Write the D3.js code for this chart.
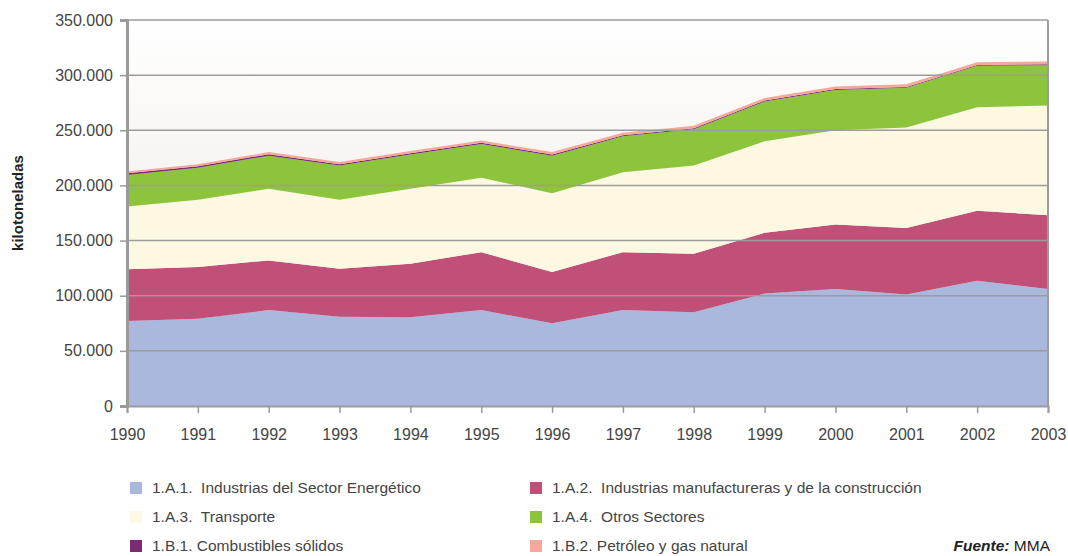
<!DOCTYPE html>
<html>
<head>
<meta charset="utf-8">
<script src="https://cdn.jsdelivr.net/npm/d3@7"></script>
<style>
  body { margin: 0; background: #fff; }
  svg text { font-family: "Liberation Sans", Arial, sans-serif; white-space: pre; }
</style>
</head>
<body>
<svg id="chart" width="1068" height="556"></svg>
<script>
const years = ['1990','1991','1992','1993','1994','1995','1996','1997','1998','1999','2000','2001','2002','2003'];
const energetico = [77000, 79000, 87000, 81000, 80500, 87000, 75000, 87000, 85000, 102000, 106000, 101000, 113500, 106000];
const manufactura = [47000, 47000, 45000, 43500, 48500, 52500, 46500, 52500, 53000, 55000, 58500, 60500, 63500, 67000];
const transporte = [57000, 61000, 65000, 62500, 68000, 67500, 71500, 72500, 80000, 83000, 85500, 91000, 94000, 99500];
const otros = [28500, 29000, 30000, 31000, 31000, 30500, 34000, 32500, 33000, 36000, 36500, 36000, 37500, 36500];
const solidos = [1500, 1400, 1300, 1200, 1200, 1100, 1000, 1000, 900, 900, 900, 800, 800, 800];
const petroleo = [1700, 1800, 1900, 2000, 2000, 2100, 2200, 2200, 2300, 2300, 2400, 2500, 2500, 2600];
const yTicks = [0, 50000, 100000, 150000, 200000, 250000, 300000, 350000];

const series = [
  {key: 'energ', label: '1.A.1.  Industrias del Sector Energético', values: energetico, color: '#aab8de'},
  {key: 'manuf', label: '1.A.2.  Industrias manufactureras y de la construcción', values: manufactura, color: '#c05078'},
  {key: 'trans', label: '1.A.3.  Transporte', values: transporte, color: '#fdf8e1'},
  {key: 'otros', label: '1.A.4.  Otros Sectores', values: otros, color: '#8cc43c'},
  {key: 'solid', label: '1.B.1. Combustibles sólidos', values: solidos, color: '#7b2a74'},
  {key: 'petro', label: '1.B.2. Petróleo y gas natural', values: petroleo, color: '#f5a79a'}
];

const rows = years.map((y, i) => {
  const r = {year: y};
  series.forEach(s => r[s.key] = s.values[i]);
  return r;
});

const svg = d3.select('#chart');
const mLeft = 127, mRight = 1048, mTop = 20, mBottom = 406;

const x = d3.scalePoint().domain(years).range([mLeft, mRight]);
const y = d3.scaleLinear().domain([0, 350000]).range([mBottom, mTop]);

const fmt = d => d3.format(',')(d).replace(/,/g, '.');

// plot background gradient
const grad = svg.append('defs').append('linearGradient')
  .attr('id', 'bg').attr('x1', 0).attr('y1', 0).attr('x2', 0).attr('y2', 1);
grad.append('stop').attr('offset', '0%').attr('stop-color', '#ffffff');
grad.append('stop').attr('offset', '100%').attr('stop-color', '#ebe5dd');
svg.append('rect')
  .attr('x', mLeft).attr('y', mTop)
  .attr('width', mRight - mLeft).attr('height', mBottom - mTop)
  .attr('fill', 'url(#bg)');

const stack = d3.stack().keys(series.map(s => s.key));
const layers = stack(rows);
const area = d3.area()
  .x(d => x(d.data.year))
  .y0(d => y(d[0]))
  .y1(d => y(d[1]));

svg.append('g').selectAll('path')
  .data(layers)
  .enter()
  .append('path')
    .attr('fill', (d, i) => series[i].color)
    .attr('d', area);

// gridlines
svg.append('g').selectAll('line')
  .data(yTicks.filter(t => t > 0))
  .enter()
  .append('line')
    .attr('x1', mLeft).attr('x2', mRight)
    .attr('y1', d => y(d)).attr('y2', d => y(d))
    .attr('stroke', '#9c9c9c').attr('stroke-width', 1.5);

// right border
svg.append('line')
  .attr('x1', mRight).attr('x2', mRight).attr('y1', mTop).attr('y2', mBottom)
  .attr('stroke', '#9c9c9c').attr('stroke-width', 2);

// y axis
const yAxis = svg.append('g')
  .attr('transform', `translate(${mLeft},0)`)
  .call(d3.axisLeft(y).tickValues(yTicks).tickFormat(fmt).tickSize(7).tickPadding(7));
yAxis.select('.domain').attr('stroke', '#9a9a9a').attr('stroke-width', 3);
yAxis.selectAll('.tick line').attr('stroke', '#9a9a9a').attr('stroke-width', 1.5);
yAxis.selectAll('text').attr('font-size', 16).attr('fill', '#444');

// x axis
const xAxis = svg.append('g')
  .attr('transform', `translate(0,${mBottom})`)
  .call(d3.axisBottom(x).tickSize(7).tickPadding(16));
xAxis.select('.domain').attr('stroke', '#9a9a9a').attr('stroke-width', 2);
xAxis.selectAll('.tick line').attr('stroke', '#9a9a9a').attr('stroke-width', 1.5);
xAxis.selectAll('text').attr('font-size', 16).attr('fill', '#444');

// y title
svg.append('text')
  .attr('transform', 'translate(18,203) rotate(-90)')
  .attr('text-anchor', 'middle').attr('dy', '0.35em')
  .attr('font-size', 15).attr('font-weight', 'bold').attr('fill', '#222')
  .text('kilotoneladas');

// legend
const legendPos = [[130, 488], [530, 488], [130, 517], [530, 517], [130, 546], [530, 546]];
const leg = svg.append('g').selectAll('g')
  .data(series)
  .enter()
  .append('g')
    .attr('transform', (d, i) => `translate(${legendPos[i][0]},${legendPos[i][1]})`);
leg.append('rect')
  .attr('x', 0).attr('y', -6).attr('width', 12).attr('height', 12)
  .attr('fill', d => d.color);
leg.append('text')
  .attr('x', 22).attr('y', 0).attr('dy', '0.35em')
  .attr('font-size', 15.5).attr('fill', '#444')
  .text(d => d.label);

const src = svg.append('text')
  .attr('x', 1050).attr('y', 546).attr('dy', '0.35em')
  .attr('text-anchor', 'end')
  .attr('font-size', 15.5).attr('fill', '#222');
src.append('tspan').attr('font-weight', 'bold').attr('font-style', 'italic').text('Fuente:');
src.append('tspan').text(' MMA');
</script>
</body>
</html>
